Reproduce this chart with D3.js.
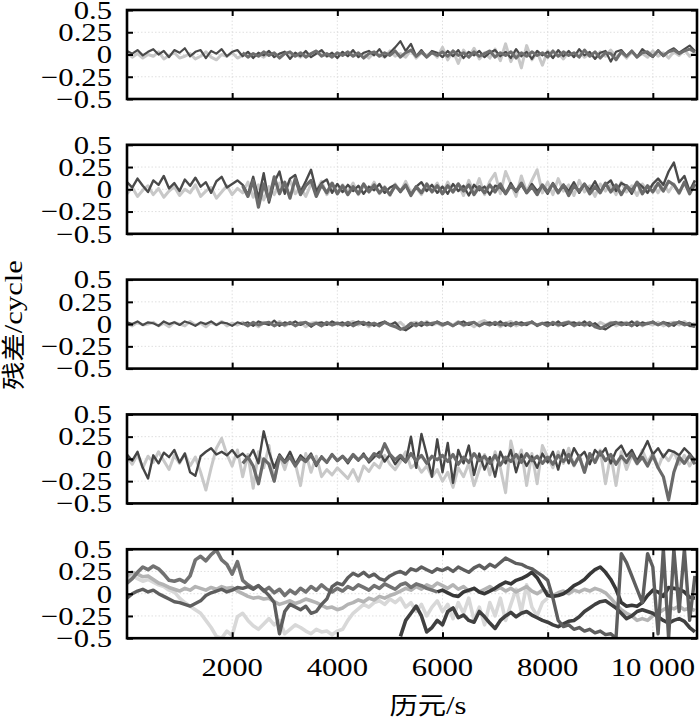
<!DOCTYPE html>
<html><head><meta charset="utf-8">
<script src="https://cdn.jsdelivr.net/npm/d3@7"></script>
<style>html,body{margin:0;padding:0;background:#fff}</style>
</head><body>
<svg id="c" width="700" height="721"></svg>
<script>
const epochStep = 100; // s between samples
const xTicks = [2000, 4000, 6000, 8000, 10000];
const xTickLabels = ["2000", "4000", "6000", "8000", "10 000"];
const yTicks = [0.5, 0.25, 0, -0.25, -0.5];
const yTickLabels = ["0.5", "0.25", "0", "\u22120.25", "\u22120.5"];
const yTitleCJK = "残差", yTitleLatin = "/cycle";
const xTitleCJK = "历元", xTitleLatin = "/s";
const _ = null;

// Panel 1
const p1Light = [.02,-.03,.01,-.04,0,-.02,.03,-.05,-.01,.02,-.04,-.02,.01,-.05,-.02,.03,-.03,-.06,0,-.02,.02,-.04,
-.01,.02,-.02,.01,-.03,.02,0,-.02,.03,-.01,.01,-.03,.02,-.02,.01,.03,-.02,0,-.03,
.02,-.01,.03,-.02,.01,-.04,.02,0,-.03,.04,-.02,.01,-.03,.05,-.04,.02,-.01,.03,-.03,
.08,-.06,.04,-.1,.05,-.03,.07,-.05,.02,-.04,.06,-.07,.12,-.08,.05,-.15,.1,-.06,.03,-.12,
.04,-.03,.02,-.05,.03,-.02,.04,-.03,.01,-.04,.03,-.02,.05,-.03,.02,-.04,.03,-.02,.01,-.03,.04,-.02,.02,-.04,.03,-.01,.05,-.02,.03];
const p1Dark = [.04,.01,.05,-.01,.03,.06,0,.04,-.03,.05,.02,.07,-.02,.03,.05,-.04,.04,.01,.06,-.02,.03,.05,
-.02,.03,-.04,.02,-.01,.04,-.03,.01,.03,-.05,.02,-.02,.04,-.03,.01,.05,-.02,.02,-.04,
.03,-.02,.05,-.03,.02,.04,-.01,.06,-.03,.02,.08,.15,.04,.12,-.02,.05,-.03,.04,.02,
-.03,.04,-.02,.05,-.04,.03,-.01,.04,-.03,.02,.05,-.02,.03,-.04,.06,-.02,.03,-.05,.04,-.01,
.03,-.04,.05,-.02,.04,-.03,.06,-.01,.03,-.05,.02,.04,-.08,.03,.05,-.02,.04,-.03,.06,.01,-.03,.05,-.02,.04,.07,.02,.06,.1,.04];
const p1Mid = [_,_,_,_,_,_,_,_,_,_,_,_,_,_,_,_,_,_,_,_,_,_,
.02,-.03,.01,-.02,.03,-.01,.02,-.04,.01,.03,-.02,.02,-.03,.01,.04,-.02,.01,-.03,.02,
-.01,.03,-.02,.02,-.04,.01,.03,-.02,.02,-.01,.04,-.03,.02,.05,-.02,.03,-.03,.02,-.01,
.03,-.02,.04,-.01,.02,-.03,.03,-.02,.01,.04,-.03,.02,-.01,.03,-.04,.02,-.02,.03,-.01,.02,
-.03,.04,-.02,.03,-.01,.02,-.03,.05,-.02,.03,-.04,.02,.01,-.06,.03,-.02,.04,-.03,.02,.03,-.02,.04,-.01,.03,.05,.01,.04,.06,.03];

// Panel 2
const p2Light = [-.05,.02,-.08,-.01,.04,-.06,.01,-.09,-.02,.03,-.07,0,-.04,.05,-.08,-.02,.02,-.1,-.03,.04,-.06,.01,
-.04,.08,-.09,.05,-.12,.03,-.06,.07,-.03,.1,-.05,.02,-.08,.06,-.02,.09,-.06,.03,-.04,
.05,-.03,.07,-.06,.04,-.02,.08,-.05,.03,-.07,.06,-.03,.09,-.04,.02,-.06,.05,-.02,.07,
-.05,.08,-.03,.06,-.07,.1,-.04,.12,-.06,.09,.18,-.05,.2,.06,-.08,.15,-.03,.1,.22,-.04,
.08,-.06,.12,-.02,.05,-.07,.1,-.03,.04,-.08,.06,-.02,.05,-.06,.08,-.03,.04,-.07,.06,-.02,.05,-.04,.07,-.03,.06,-.05,.08,-.02,.05];
const p2Dark = [.08,.02,.12,.04,-.03,.1,.05,.15,.01,.07,-.02,.11,.04,.13,.03,.08,-.04,.09,.14,.02,.06,.1,
.05,-.06,.14,-.1,.18,-.15,.08,.2,-.05,.12,.16,-.03,.09,.22,-.02,.07,.11,-.04,.06,
-.03,.05,-.02,.04,-.05,.03,-.01,.06,-.04,.02,.05,-.03,.04,-.06,.03,.08,-.02,.05,-.04,
.03,-.05,.06,-.02,.04,-.07,.05,-.01,.03,-.06,.04,.02,-.05,.07,-.03,.05,-.04,.06,-.02,.04,
-.05,.07,-.03,.05,-.02,.08,-.04,.06,-.01,.09,-.03,.05,.1,-.02,.07,.04,-.05,.08,.03,-.04,.06,.12,.05,.2,.3,.08,.15,-.02,.1];
const p2Mid = [_,_,_,_,_,_,_,_,_,_,_,_,_,_,_,_,_,_,_,_,_,_,
.04,-.08,.1,-.2,.06,-.12,.14,-.05,.08,-.1,.12,-.06,.04,.1,-.08,.05,-.04,.07,-.05,
.04,-.06,.03,-.05,.06,-.03,.05,-.04,.02,-.06,.04,-.02,.05,-.07,.03,-.04,.06,-.03,.04,
-.05,.04,-.03,.06,-.02,.05,-.06,.03,-.04,.05,-.03,.06,-.05,.04,-.02,.07,-.04,.03,-.06,.05,
-.03,.06,-.04,.05,-.07,.04,-.02,.06,-.05,.03,-.04,.07,-.03,.05,-.06,.04,-.02,.08,-.05,.04,-.03,.07,-.02,.09,.05,-.04,.08,-.05,.06];

// Panel 3
const p3Light = [.01,-.02,.02,-.01,0,.02,-.02,.01,-.03,.02,0,-.02,.03,-.01,.01,-.03,.02,-.01,.03,-.02,.01,-.01,
.02,-.02,.01,-.03,.02,0,-.01,.03,-.02,.01,-.01,.02,-.03,.01,.02,-.02,.01,-.01,.02,
-.02,.01,.03,-.01,.02,-.03,.01,-.02,.02,0,-.01,.02,-.04,.01,.02,-.02,.03,-.01,.01,
-.02,.02,-.01,.03,-.02,.01,-.03,.02,.04,-.01,.02,-.03,.01,.03,-.02,.01,-.01,.02,-.02,.01,
-.01,.02,-.02,.01,.03,-.01,.02,-.02,.01,-.03,.02,-.01,.02,-.02,.01,.02,-.01,.03,-.02,.01,-.01,.02,-.02,.01,.02,-.01,.03,-.02,.01];
const p3Dark = [.02,0,.03,-.01,.02,.01,-.02,.03,0,.02,-.01,.03,.01,-.02,.02,0,.03,-.01,.02,.01,-.02,.02,
0,.02,-.02,.03,.01,-.01,.04,-.02,.02,0,.03,-.01,.02,-.03,.01,.02,-.01,.03,0,
.02,-.02,.01,.03,-.01,.02,-.02,.01,.03,-.01,.02,-.05,-.07,-.03,.01,-.02,.02,-.01,.03,
0,.02,-.02,.01,.03,-.01,.02,-.02,.01,.02,-.01,.03,-.02,.01,0,.02,-.01,.03,-.02,.01,
.02,-.01,.03,-.02,.01,.02,-.01,.03,-.02,.01,-.04,-.06,-.02,.01,.02,-.01,.03,-.02,.02,0,.03,-.01,.02,.01,-.02,.03,.01,-.02,-.03];
const p3Mid = [_,_,_,_,_,_,_,_,_,_,_,_,_,_,_,_,_,_,_,_,_,_,
.01,-.02,.02,-.01,.01,.02,-.02,.01,-.01,.02,-.02,.01,.02,-.01,.01,-.02,.02,-.01,.01,
-.01,.02,-.02,.01,.02,-.01,.01,-.02,.02,-.01,-.03,-.06,-.04,.01,-.02,.02,-.01,.01,.02,
-.01,.01,-.02,.02,-.01,.01,.02,-.02,.01,-.01,.02,-.01,.01,-.02,.02,-.01,.01,.02,-.01,.01,
-.02,.02,-.01,.01,.02,-.02,.01,-.01,.02,-.03,-.05,-.02,.01,.02,-.01,.01,-.02,.02,-.01,.01,.02,-.01,.02,-.02,.01,.02,-.01,.01,-.03];

// Panel 4
const p4Light = [.02,-.06,.05,-.1,.03,-.04,.08,-.02,-.12,.04,-.05,.06,-.08,.02,-.15,-.35,-.1,.12,.23,.05,-.08,.1,
-.2,.05,-.33,.08,-.1,.15,-.25,.04,-.12,.07,-.05,-.3,.06,-.15,.03,-.2,-.12,-.18,-.1,
-.16,-.22,-.12,-.25,-.08,-.14,-.05,-.1,.04,-.06,-.12,-.03,.08,-.1,-.05,-.15,-.08,-.2,-.12,
-.25,-.15,-.32,-.1,-.2,-.05,-.3,-.12,.05,-.18,.08,-.1,-.38,.2,-.05,.1,-.3,.06,-.28,.15,
.02,-.1,.08,-.05,.12,-.08,.04,-.15,.06,-.02,.1,-.28,.05,-.3,.08,-.12,.04,-.06,.1,-.04,.07,-.1,.05,-.02,.08,-.06,.04,-.08,.02];
const p4Dark = [.05,-.02,.08,-.1,-.22,.04,-.05,.07,.02,.1,-.04,.06,-.15,-.19,.03,.08,.12,.05,.08,.04,.1,.02,
.06,0,.1,-.05,.31,.08,-.1,.05,-.03,.08,-.06,.04,-.02,.06,-.08,.03,-.04,.05,-.02,
.03,-.05,.04,-.02,.06,-.04,.02,.08,-.03,.05,-.06,.02,-.04,.25,-.1,.28,.05,-.2,.22,
-.15,.18,-.27,.1,-.05,.15,-.18,.06,-.12,.02,-.2,.08,-.05,.1,-.15,.05,-.08,.03,-.1,.06,
-.04,.08,-.12,.1,-.05,.12,.02,.08,-.06,.1,.04,.12,-.05,.09,.15,.03,.1,-.02,.08,.2,.05,.12,.02,.1,.08,.04,.12,.06,-.02];
const p4Mid = [_,_,_,_,_,_,_,_,_,_,_,_,_,_,_,_,_,_,_,_,_,_,
-.05,.02,-.08,-.28,0,-.06,-.25,.03,-.04,.02,-.08,.01,-.03,.04,-.06,.02,-.04,.05,-.02,
.03,-.03,.05,-.01,.04,-.02,.06,.02,.17,.05,-.01,.04,-.03,.06,-.02,.04,-.05,.03,-.01,
.04,-.03,.05,-.06,.02,-.04,.06,-.02,.03,-.05,.04,-.07,.02,-.03,.05,-.04,.06,-.02,.03,-.05,
.02,-.06,.04,-.03,.05,-.07,.03,-.15,.06,-.04,.08,-.02,.05,-.06,.03,-.04,.06,-.05,.02,-.08,.04,-.1,-.2,-.46,-.15,.02,-.05,.04,-.06];

// Panel 5
const p5A = [.12,.17,.24,.3,.27,.31,.28,.22,.15,.14,.16,.13,.2,.38,.42,.37,.44,.49,.38,.33,.22,.36,.15,.1,.06,.09,.03,.07,.01,.05,
-.02,.04,0,.06,.02,.08,.04,.1,.05,.02,.06,.03,.08,.05,.1,.07,.04,.09,.06,.11,.08,.05,.1,.12,.07,.11,.09,.06,.04,.02,
_,_,_,_,_,_,_,_,_,_,_,_,_,_,_,_,_,_,_,_,_,_,_,_,_,_,_,_,_,_,_,_,_,_,_,_,_,_,_,_,_,_,_,_,_,_,_,_,_];
const p5B = [-.05,0,.03,.05,.02,.04,0,-.03,-.06,-.09,-.1,-.12,-.14,-.11,-.08,-.02,.01,.03,.05,.02,.04,.07,.06,.08,.05,.09,.04,-.02,-.1,-.45,
-.2,-.12,-.15,-.18,-.14,-.22,-.2,-.12,-.06,.08,.12,.1,.18,.23,.2,.24,.19,.22,.17,.15,.2,.23,.25,.22,.28,.26,.3,.27,.24,.28,
.26,.29,.25,.3,.27,.24,.29,.32,.28,.33,.3,.35,.4,.37,.34,.33,.3,.28,.24,.2,.15,-.05,-.3,-.37,-.35,-.4,-.38,-.42,-.4,-.44,
-.42,-.46,-.45,-.5,.45,.35,.2,.05,-.1,.45,.3,-.45,.5,-.5,.5,-.2,.5,-.3,.2];
const p5C = [.2,.24,.22,.19,.2,.16,.12,.1,.07,.05,.03,.06,.04,.08,.06,.04,.07,.05,.08,.06,.07,.03,0,-.03,-.05,-.04,-.06,-.05,-.09,-.12,
-.1,-.08,-.11,-.09,-.06,-.08,-.1,-.13,-.16,-.15,-.18,-.16,-.12,-.1,-.07,-.09,-.05,-.07,-.03,-.05,-.02,0,.03,.06,.04,.08,.05,.1,.07,.12,
.09,.06,.1,.05,.08,.03,.06,.02,.05,.08,.04,.07,.03,.06,.02,.05,.08,.03,0,.04,.02,-.02,.01,.03,0,.04,.02,.05,.03,.06,
.04,.01,-.05,-.12,-.18,-.22,-.25,-.3,-.28,-.3,-.25,-.22,-.18,-.15,-.17,-.14,-.18,-.16,-.19];
const p5D = [.15,.2,.17,.14,.16,.13,.1,.08,.04,.02,-.05,-.1,-.14,-.18,-.22,-.3,-.38,-.48,-.5,-.42,-.47,-.26,-.22,-.3,-.36,-.4,-.34,-.28,-.35,-.3,
-.45,-.4,-.35,-.38,-.42,-.45,-.4,-.43,-.42,-.46,-.42,-.4,-.3,-.22,-.17,-.12,-.15,-.1,-.08,-.12,-.06,-.1,-.05,-.15,-.1,-.2,-.12,-.25,-.15,-.08,
-.2,-.12,-.28,-.1,-.22,-.05,-.3,-.15,-.35,-.1,-.25,-.05,-.3,-.12,.05,-.2,.1,-.15,-.25,-.1,-.05,
_,_,_,_,_,_,_,_,_,_,_,_,_,_,_,_,_,_,_,_,_,_,_,_,_,_,_,_];
const p5E = [_,_,_,_,_,_,_,_,_,_,_,_,_,_,_,_,_,_,_,_,_,_,_,_,_,_,_,_,_,_,_,_,_,_,_,_,_,_,_,_,_,_,_,_,_,_,_,_,_,_,_,_,
-.48,-.3,-.22,-.14,-.25,-.43,-.38,-.3,-.35,-.2,-.16,-.27,-.24,-.3,-.32,-.2,-.26,-.33,-.39,-.3,-.25,-.21,-.26,-.22,-.2,-.24,-.27,-.3,
-.32,-.35,-.37,-.34,-.31,-.3,-.26,-.2,-.16,-.12,-.09,-.08,-.12,-.16,-.22,-.28,-.25,-.2,-.18,-.2,-.22,-.26,-.3,-.33,-.3,-.28,-.31,-.38,-.43];
const p5F = [_,_,_,_,_,_,_,_,_,_,_,_,_,_,_,_,_,_,_,_,_,_,_,_,_,_,_,_,_,_,_,_,_,_,_,_,_,_,_,_,_,_,_,_,_,_,_,_,_,_,_,_,_,_,_,_,_,_,_,
.02,.04,.01,-.02,-.03,.02,.04,.06,.02,0,.03,.06,.1,.13,.11,.15,.17,.2,.24,.18,.08,-.02,-.03,-.02,0,
.04,.09,.12,.16,.22,.27,.3,.24,.16,.05,-.1,-.14,-.13,-.14,-.1,-.02,.04,.02,-.03,.07,.06,.05,.02,-.04,-.05];

const panels = [
  {series: [[p1Light, "#c8c8c8", 3], [p1Dark, "#4a4a4a", 2.2], [p1Mid, "#6e6e6e", 3]]},
  {series: [[p2Light, "#c8c8c8", 3], [p2Dark, "#4a4a4a", 2.4], [p2Mid, "#6a6a6a", 3.2]]},
  {series: [[p3Light, "#c8c8c8", 3], [p3Dark, "#4a4a4a", 2.2], [p3Mid, "#6e6e6e", 3]]},
  {series: [[p4Light, "#c8c8c8", 3], [p4Dark, "#454545", 2.4], [p4Mid, "#6a6a6a", 3.2]]},
  {series: [[p5D, "#d8d8d8", 3.6], [p5C, "#b4b4b4", 3.6], [p5A, "#727272", 3.6], [p5E, "#404040", 3.6], [p5F, "#383838", 3.6], [p5B, "#5e5e5e", 3.4]]}
];

const svg = d3.select("#c");
const left = 127, right = 697, panelH = 89, top0 = 10, gap = 134.8;
const x = d3.scaleLinear().domain([0, 10840]).range([left, right]);
const y = d3.scaleLinear().domain([-0.5, 0.5]).range([panelH, 0]);
const serif = "'Liberation Serif','Times New Roman',serif";
const cjk = "'Noto Sans CJK SC','Noto Sans CJK JP',sans-serif";
const sx = 1.18;

panels.forEach((p, k) => {
  const g = svg.append("g").attr("transform", `translate(0,${top0 + k * gap})`);
  g.append("clipPath").attr("id", "clip" + k).append("rect")
    .attr("x", left).attr("y", 0).attr("width", right - left).attr("height", panelH);
  // grid
  const grid = g.append("g").attr("stroke", "#d8d8d8").attr("stroke-width", 0.8).attr("stroke-dasharray", "1.5,2");
  xTicks.forEach(t => grid.append("line").attr("x1", x(t)).attr("x2", x(t)).attr("y1", 0).attr("y2", panelH));
  yTicks.filter(t => Math.abs(t) < 0.5).forEach(t => grid.append("line").attr("x1", left).attr("x2", right).attr("y1", y(t)).attr("y2", y(t)));
  // lines
  const lg = g.append("g").attr("clip-path", `url(#clip${k})`);
  p.series.forEach(([vals, color, w]) => {
    const line = d3.line().defined(d => d != null).x((d, i) => x(i * epochStep)).y(d => y(d));
    lg.append("path").attr("d", line(vals)).attr("fill", "none").attr("stroke", color)
      .attr("stroke-width", w).attr("stroke-linejoin", "round");
  });
  // axes ticks (inward)
  const styleAxis = a => { a.select(".domain").remove(); a.selectAll("line").attr("stroke", "#000").attr("stroke-width", 2); a.selectAll("text").remove(); };
  g.append("g").attr("transform", `translate(${left},0)`).call(d3.axisLeft(y).tickValues(yTicks).tickSize(-6)).call(styleAxis);
  g.append("g").attr("transform", `translate(${right},0)`).call(d3.axisRight(y).tickValues(yTicks).tickSize(-6)).call(styleAxis);
  g.append("g").attr("transform", `translate(0,0)`).call(d3.axisTop(x).tickValues(xTicks).tickSize(-6)).call(styleAxis);
  g.append("g").attr("transform", `translate(0,${panelH})`).call(d3.axisBottom(x).tickValues(xTicks).tickSize(-6)).call(styleAxis);
  // frame
  g.append("rect").attr("x", left).attr("y", 0).attr("width", right - left).attr("height", panelH)
    .attr("fill", "none").attr("stroke", "#000").attr("stroke-width", 2.6);
  // y labels
  yTicks.forEach((t, j) => {
    g.append("text").attr("transform", `translate(112,${y(t)}) scale(${sx},1)`)
      .attr("dy", "0.34em").attr("text-anchor", "end")
      .attr("font-family", serif).attr("font-size", 26).attr("fill", "#000").text(yTickLabels[j]);
  });
  if (k === panels.length - 1) {
    xTicks.forEach((t, j) => {
      g.append("text").attr("transform", `translate(${x(t)},${panelH + 38}) scale(${sx},1)`)
        .attr("text-anchor", "middle").attr("font-family", serif).attr("font-size", 26).attr("fill", "#000")
        .text(xTickLabels[j]);
    });
  }
});

// axis titles
const yt = svg.append("text").attr("transform", `translate(22,325) rotate(-90) scale(${sx},1)`)
  .attr("text-anchor", "middle").attr("fill", "#000");
yt.append("tspan").attr("font-family", cjk).attr("font-size", 24).text(yTitleCJK);
yt.append("tspan").attr("font-family", serif).attr("font-size", 26).text(yTitleLatin);
const xt = svg.append("text").attr("transform", `translate(428,714) scale(${sx},1)`)
  .attr("text-anchor", "middle").attr("fill", "#000");
xt.append("tspan").attr("font-family", cjk).attr("font-size", 24).text(xTitleCJK);
xt.append("tspan").attr("font-family", serif).attr("font-size", 26).text(xTitleLatin);
</script>
</body></html>
